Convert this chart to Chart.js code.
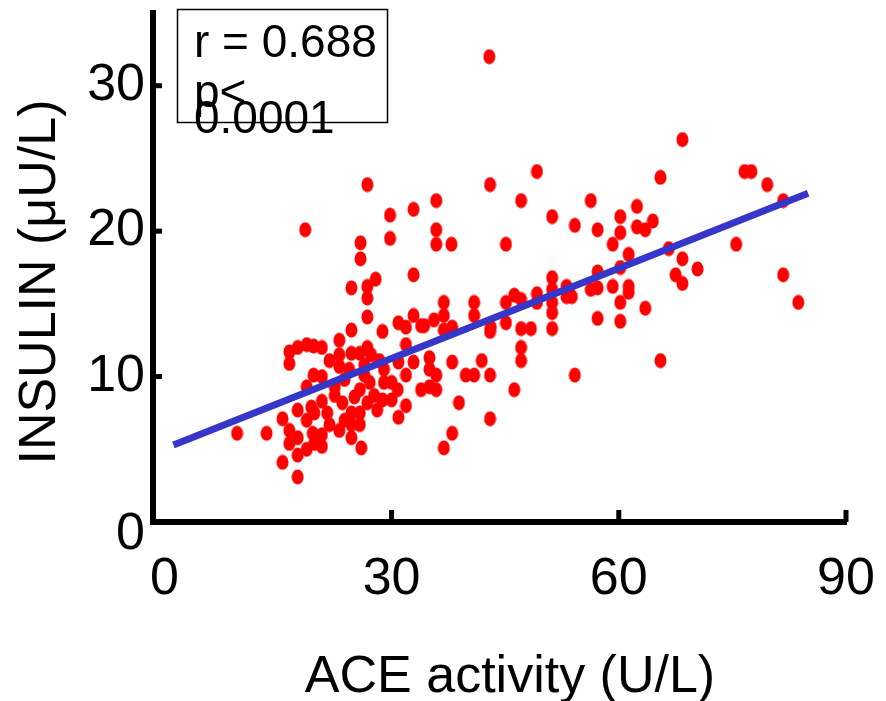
<!DOCTYPE html>
<html><head><meta charset="utf-8">
<script src="https://cdn.jsdelivr.net/npm/chart.js@4/dist/chart.umd.min.js"></script>
<style>html,body{margin:0;padding:0;background:#fff;}#wrap{width:886px;height:701px;}</style>
</head><body><div id="wrap"><canvas id="c" width="886" height="701"></canvas></div>
<script>
const aceActivity = [42.9,68.4,49.2,65.5,26.8,43.0,76.6,77.5,79.6,81.7,18.6,29.8,32.9,25.9,29.8,25.9,35.9,47.1,51.2,56.3,62.4,60.2,54.2,57.2,35.9,35.9,37.9,45.1,60.2,62.4,63.5,64.5,59.2,61.3,66.6,68.4,70.4,67.5,68.4,75.5,81.7,83.7,60.2,57.2,57.2,56.3,59.2,61.3,61.3,60.2,63.5,57.2,60.2,65.5,54.2,53.4,53.8,32.9,27.9,24.7,26.8,26.8,26.8,32.9,30.9,31.9,33.9,24.7,28.8,51.2,53.1,51.2,49.2,46.2,45.1,47.1,36.9,40.9,40.9,36.9,35.6,51.2,51.2,53.1,49.2,43.1,45.1,47.1,48.4,51.2,38.0,34.3,47.1,47.1,46.2,36.9,43.0,26.8,31.9,25.8,30.9,32.9,35.0,38.0,41.9,29.0,31.9,35.0,35.9,39.8,40.9,43.0,27.1,29.0,30.0,30.8,33.9,35.0,35.9,25.8,26.8,28.8,30.0,31.9,38.9,30.9,43.0,25.8,38.0,36.9,26.0,9.6,13.5,15.6,15.6,17.6,16.5,17.6,18.8,19.7,16.5,19.7,20.8,18.8,17.6,18.8,20.8,16.5,16.5,17.6,18.8,19.8,20.8,19.6,20.8,23.1,24.7,23.1,24.4,22.5,21.5,23.5,24.7,24.7,25.8,24.7,25.1,19.4,19.8,17.6,20.8,21.8,23.8,22.5,23.8,21.8,23.1,26.4,27.7,28.1,26.4,23.1,27.3,28.4];
const insulin = [32.0,26.3,24.1,23.7,23.2,23.2,24.1,24.1,23.2,22.1,20.1,21.1,21.5,19.2,19.5,18.1,22.1,22.1,21.0,22.1,21.7,21.0,20.4,20.1,20.1,19.1,19.1,19.1,19.9,20.3,20.1,20.7,19.1,18.4,18.8,18.1,17.4,17.0,16.4,19.1,17.0,15.1,17.5,17.2,16.1,16.0,16.2,16.2,15.8,15.1,14.7,14.0,13.8,11.1,10.1,16.0,15.5,17.0,16.7,16.1,16.2,15.4,14.1,14.2,13.7,13.4,13.5,13.2,13.1,16.8,16.2,16.0,15.7,15.6,15.1,15.3,15.1,15.1,14.2,14.2,13.9,15.1,14.4,15.5,15.1,13.4,13.7,13.3,13.3,13.3,13.4,13.5,12.0,11.1,9.1,13.2,13.1,12.0,12.2,11.6,11.0,11.0,11.3,11.0,11.1,10.5,10.1,10.5,10.1,10.1,10.1,10.1,9.6,9.6,9.6,9.1,9.1,9.3,9.1,9.1,8.2,8.4,8.4,8.0,8.2,7.2,7.1,6.7,6.1,5.1,5.1,6.1,6.1,7.1,4.1,3.1,11.7,12.0,12.2,12.1,10.9,10.1,10.0,9.3,7.7,7.0,8.3,6.3,5.4,5.8,5.0,5.4,5.2,6.1,6.0,11.5,11.6,10.7,10.5,9.3,7.5,8.2,7.5,6.7,7.5,5.8,8.6,7.9,7.5,4.6,12.0,11.1,9.8,8.7,7.0,6.7,6.3,10.8,8.7,7.7,10.1,12.5,11.5,11.1];
const fitX = [1.2, 85.0];
const fitY = [5.3, 22.6];
const xTicks = [0, 30, 60, 90];
const yTicks = [0, 10, 20, 30];
const xTitle = 'ACE activity (U/L)';
const yTitle = 'INSULIN (\u03bcU/L)';
const statLines = ['r = 0.688', 'p<', '0.0001'];

const FONT = '"Liberation Sans", Arial, sans-serif';

const dot = document.createElement('canvas');
dot.width = 13; dot.height = 16;
const g = dot.getContext('2d');
g.fillStyle = '#ff0000';
g.beginPath(); g.ellipse(6.5, 8, 6, 7.6, 0, 0, 2 * Math.PI); g.fill();

const decor = {
  id: 'decor',
  afterDraw(chart) {
    const ctx = chart.ctx, ca = chart.chartArea;
    const xs = chart.scales.x, ys = chart.scales.y;
    ctx.save();
    ctx.strokeStyle = '#000';
    ctx.lineWidth = 5;
    ctx.lineCap = 'butt';
    xTicks.slice(1).forEach(v => {
      const px = xs.getPixelForValue(v);
      ctx.beginPath(); ctx.moveTo(px, ca.bottom); ctx.lineTo(px, ca.bottom - 12); ctx.stroke();
    });
    yTicks.slice(1).forEach(v => {
      const py = ys.getPixelForValue(v);
      ctx.beginPath(); ctx.moveTo(ca.left, py); ctx.lineTo(ca.left + 9, py); ctx.stroke();
    });
    // stats box
    ctx.lineWidth = 1.5;
    ctx.strokeRect(ca.left + 24.5, ca.top - 3.5, 210, 113);
    ctx.fillStyle = '#000';
    ctx.font = '46px ' + FONT;
    ctx.textAlign = 'left';
    ctx.textBaseline = 'alphabetic';
    ctx.fillText(statLines[0], ca.left + 41, 57);
    ctx.fillText(statLines[1], ca.left + 41, 107);
    ctx.fillText(statLines[2], ca.left + 41, 133);
    // axis titles
    ctx.font = '52px ' + FONT;
    ctx.textAlign = 'center';
    ctx.fillText(xTitle, 510, 692);
    ctx.translate(55, 282);
    ctx.rotate(-Math.PI / 2);
    ctx.fillText(yTitle, 0, 0);
    ctx.restore();
  }
};

new Chart(document.getElementById('c'), {
  type: 'scatter',
  data: {
    datasets: [
      {
        label: 'fit',
        data: fitX.map((x, i) => ({ x: x, y: fitY[i] })),
        showLine: true,
        borderColor: 'rgb(54,54,200)',
        borderWidth: 7,
        pointRadius: 0,
        fill: false,
        order: 0
      },
      {
        label: 'data',
        data: aceActivity.map((x, i) => ({ x: x, y: insulin[i] })),
        pointStyle: dot,
        pointRadius: 6,
        order: 1
      }
    ]
  },
  options: {
    responsive: false,
    animation: false,
    devicePixelRatio: 1,
    events: [],
    layout: { padding: { left: 0, right: 40, top: 13, bottom: 0 } },
    plugins: { legend: { display: false }, tooltip: { enabled: false } },
    scales: {
      x: {
        type: 'linear', position: 'bottom', min: -1.5, max: 90,
        afterBuildTicks: s => { s.ticks = xTicks.map(v => ({ value: v })); },
        afterFit: s => { s.height = 179; s.paddingLeft = 0; s.paddingRight = 0; },
        grid: { display: false, drawTicks: false },
        border: { display: true, width: 6, color: '#000' },
        ticks: { color: '#000', padding: 26, maxRotation: 0, autoSkip: false,
                 font: { family: FONT, size: 52 }, callback: v => String(v) }
      },
      y: {
        type: 'linear', position: 'left', min: 0, max: 35,
        afterBuildTicks: s => { s.ticks = yTicks.map(v => ({ value: v })); },
        afterFit: s => { s.width = 153; s.paddingTop = 0; s.paddingBottom = 0; },
        grid: { display: false, drawTicks: false },
        border: { display: true, width: 6, color: '#000' },
        ticks: { color: '#000', padding: 8, autoSkip: false,
                 font: { family: FONT, size: 52, lineHeight: '26px' },
                 callback: v => v === 0 ? ['', '0'] : String(v) }
      }
    }
  },
  plugins: [decor]
});
</script>
</body></html>
